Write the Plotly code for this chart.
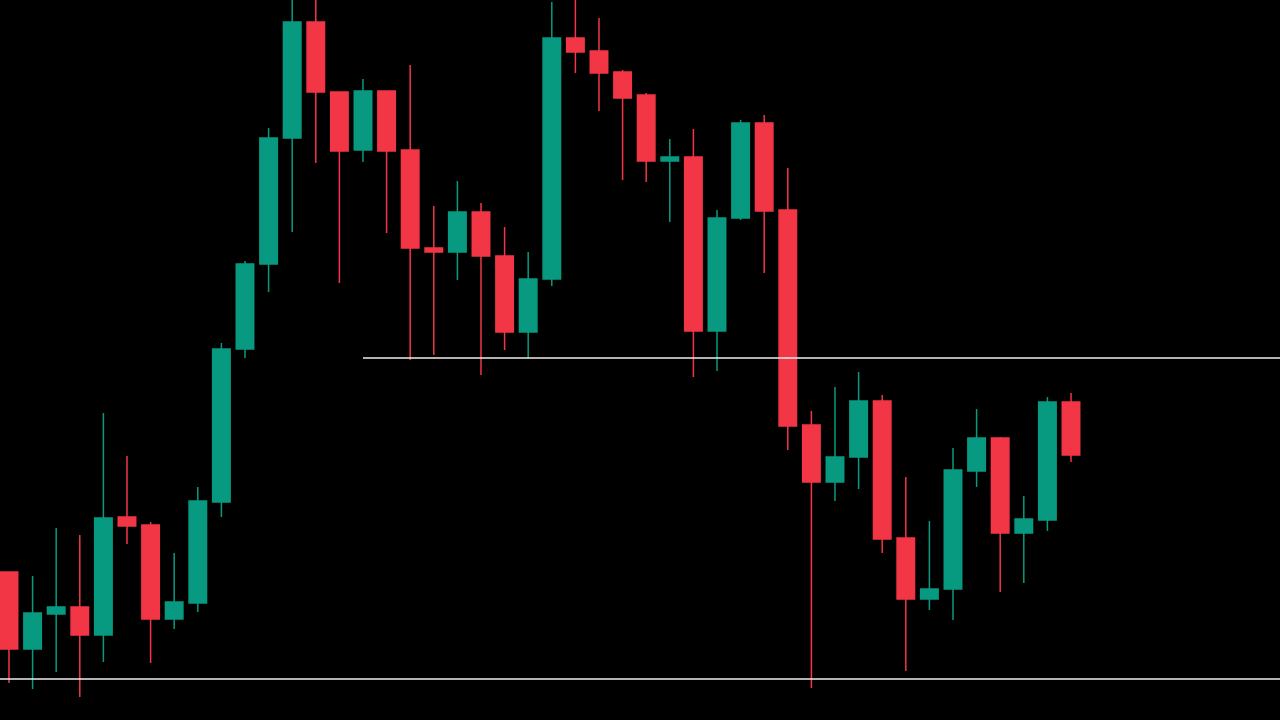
import plotly.graph_objects as go

idx = list(range(46))
open_ = [148, 71, 106, 113, 85, 203, 195, 101, 117, 218, 371, 456, 582, 698, 628, 570, 629, 570, 472, 468,
         508, 464, 388, 441, 682, 669, 648, 625, 559, 563, 389, 502, 597, 510, 295, 238, 263, 319, 182, 121,
         131, 249, 282, 187, 200, 318]
high = [148, 144, 192, 185, 307, 264, 198, 167, 233, 377, 459, 592, 725, 725, 628, 641, 629, 655, 514, 539,
        517, 493, 468, 718, 725, 702, 650, 627, 581, 591, 510, 600, 605, 552, 309, 333, 348, 325, 243, 199,
        272, 311, 283, 224, 323, 327]
low = [37, 31, 48, 23, 58, 176, 57, 91, 108, 203, 362, 428, 488, 557, 437, 558, 487, 360, 365, 440,
       345, 370, 362, 434, 647, 609, 540, 538, 498, 343, 349, 500, 447, 270, 32, 219, 231, 167, 49, 110,
       100, 233, 128, 137, 189, 258]
close = [71, 107, 113, 85, 202, 194, 101, 118, 219, 371, 456, 582, 698, 628, 569, 629, 569, 472, 468, 508,
         464, 388, 441, 682, 668, 647, 622, 559, 563, 389, 502, 597, 509, 294, 238, 263, 319, 181, 121, 131,
         250, 282, 187, 201, 318, 265]

# horizontal levels: price, starting candle index
levels = [362, 41]
level_start = [15, -1]

UP = "#089981"
DOWN = "#F23645"

fig = go.Figure()
fig.add_trace(go.Candlestick(
    x=idx, open=open_, high=high, low=low, close=close,
    increasing=dict(line=dict(color=UP, width=1.5), fillcolor=UP),
    decreasing=dict(line=dict(color=DOWN, width=1.5), fillcolor=DOWN),
    whiskerwidth=0, hoverinfo="skip", showlegend=False,
))
for lv, st in zip(levels, level_start):
    fig.add_trace(go.Scatter(
        x=[st, 60], y=[lv, lv], mode="lines",
        line=dict(color="#EEEEEE", width=1.6),
        hoverinfo="skip", showlegend=False,
    ))

fig.update_layout(
    width=1280, height=720,
    margin=dict(l=0, r=0, t=0, b=0),
    paper_bgcolor="#000000", plot_bgcolor="#000000",
    boxgap=0.26, boxgroupgap=0,
    xaxis=dict(range=[-0.381, 53.856], visible=False, rangeslider=dict(visible=False),
               showgrid=False, zeroline=False),
    yaxis=dict(range=[0, 720], visible=False, showgrid=False, zeroline=False),
)
fig.write_html("out.html")
